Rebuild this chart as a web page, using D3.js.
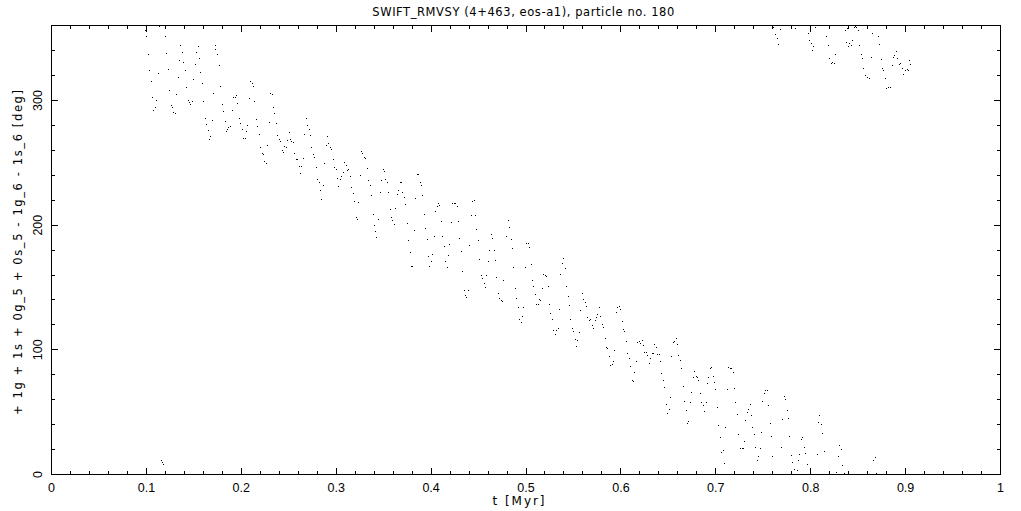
<!DOCTYPE html>
<html><head><meta charset="utf-8">
<script src="https://cdn.jsdelivr.net/npm/d3@7"></script>
<style>
body{margin:0;background:#fff}
svg{display:block}
text{font-family:"Liberation Sans",Arial,sans-serif;fill:#000}
text.lab{font-family:"DejaVu Sans",sans-serif}
</style>
</head><body>
<svg id="chart" width="1021" height="511"></svg>
<script>
// ---- text ----
const titleText = "SWIFT_RMVSY (4+463, eos-a1), particle no. 180";
const xLabelText = "t [Myr]";
const yLabelText = "+ 1g + 1s + 0g_5 + 0s_5 - 1g_6 - 1s_6 [deg]";

// ---- ticks ----
const xMajorTicks = [0,0.1,0.2,0.3,0.4,0.5,0.6,0.7,0.8,0.9,1];
const xTickLabels = ["0","0.1","0.2","0.3","0.4","0.5","0.6","0.7","0.8","0.9","1"];
const xMinorTicks = d3.range(0,51).map(i=>i/50);
const yMajorTicks = [0,100,200,300];
const yTickLabels = ["0","100","200","300"];
const yMinorTicks = d3.range(0,19).map(i=>i*20);

// ---- data: [t (Myr), angle (deg)] ----
const band1 = [[0.0992,355.9],[0.0999,351.3],[0.1136,359.4],[0.1200,351.3],[0.1020,336.9],[0.1210,337.7],[0.1358,343.8],[0.1379,338.2],[0.1547,343.3],[0.1530,338.2],[0.1733,343.8],[0.1726,340.6],[0.1748,336.9],[0.1031,323.8],[0.1126,321.6],[0.1235,324.6],[0.1347,331.8],[0.1389,330.2],[0.1558,333.4],[0.1516,328.9],[0.1410,323.8],[0.1769,328.1],[0.1052,315.0],[0.1337,318.2],[0.1495,316.6],[0.1568,322.2],[0.1589,313.4],[0.1421,310.2],[0.1242,307.7],[0.1315,304.8],[0.1779,311.0],[0.2095,315.0],[0.2113,313.4],[0.2130,311.2],[0.1063,302.1],[0.1105,300.0],[0.1442,299.7],[0.1452,298.4],[0.1466,296.8],[0.1484,298.9],[0.1600,299.2],[0.1705,305.6],[0.1800,296.5],[0.1073,292.0],[0.1094,294.1],[0.1263,295.7],[0.1273,294.1],[0.1284,290.4],[0.1305,289.6],[0.1811,291.2],[0.1621,285.3],[0.1695,283.9],[0.1832,282.9],[0.1632,280.5],[0.1870,278.1],[0.1653,275.9],[0.1842,275.1],[0.1856,276.5],[0.1674,270.9],[0.1663,269.0]];
const wrapLow = [[0.1161,11.2],[0.1168,9.6],[0.1175,8.0]];
const band2 = [[0.1916,302.7],[0.1937,302.7],[0.1948,304.0],[0.1958,297.3],[0.1905,292.0],[0.1881,279.4],[0.2085,301.6],[0.2137,298.9],[0.2306,305.3],[0.2327,304.5],[0.2338,294.4],[0.2348,289.3],[0.1979,285.3],[0.1990,281.3],[0.2011,276.4],[0.2053,274.9],[0.2064,279.7],[0.2021,269.2],[0.2042,269.2],[0.2158,284.5],[0.2169,278.9],[0.2190,272.4],[0.2295,282.1],[0.2369,281.3],[0.2380,271.6],[0.2401,268.4],[0.2411,266.8],[0.2201,262.0],[0.2222,257.2],[0.2232,256.4],[0.2243,250.8],[0.2264,249.2],[0.2274,263.6],[0.2432,259.6],[0.2443,258.0],[0.2453,262.8],[0.2474,262.0],[0.2485,267.6],[0.2506,274.0],[0.2517,268.4],[0.2527,266.8],[0.2548,266.0],[0.2559,257.2],[0.2580,252.4],[0.2590,252.4],[0.2612,246.8],[0.2633,246.8],[0.2622,241.2],[0.2654,253.2],[0.2664,272.4],[0.2685,285.3],[0.2696,279.7],[0.2717,276.4],[0.2727,271.6],[0.2738,262.0],[0.2759,256.4],[0.2770,254.0],[0.2791,246.0],[0.2801,236.3],[0.2822,233.9],[0.2833,227.5],[0.2843,220.3],[0.2864,231.5],[0.2875,249.2],[0.2896,263.6],[0.2907,270.8],[0.2917,265.2],[0.2938,262.0],[0.2949,260.4],[0.2970,252.4],[0.2980,246.0],[0.3001,244.4],[0.3012,237.1],[0.3022,230.7],[0.3043,236.3],[0.3054,238.8],[0.3075,242.0],[0.3086,250.0],[0.3107,247.6],[0.3117,243.6],[0.3128,244.4],[0.3149,238.8],[0.3159,229.9],[0.3181,225.1],[0.3191,218.7],[0.3233,217.9],[0.3254,239.5],[0.3265,258.8],[0.3275,257.2],[0.3296,254.0],[0.3307,253.2],[0.3328,245.2],[0.3339,235.5],[0.3360,231.5],[0.3370,223.5],[0.3212,205.9],[0.3223,204.3],[0.3391,208.3],[0.3444,204.3],[0.3402,199.4],[0.3412,194.6],[0.3423,190.1]];
const band3 = [[0.3497,244.4],[0.3507,242.8],[0.3476,235.6],[0.3518,236.4],[0.3539,233.9],[0.3465,225.9],[0.3549,225.9],[0.3676,233.9],[0.3686,233.9],[0.3855,240.4],[0.3866,240.4],[0.3887,233.9],[0.3897,231.5],[0.3655,227.5],[0.3644,224.3],[0.3697,225.9],[0.3718,221.9],[0.3729,216.3],[0.3834,221.1],[0.3908,223.5],[0.3570,212.3],[0.3623,213.1],[0.3581,205.9],[0.3592,203.5],[0.3613,200.3],[0.3750,201.1],[0.3823,195.5],[0.3929,208.3],[0.3939,197.1],[0.3760,187.4],[0.3781,177.8],[0.3792,166.6],[0.3802,166.6],[0.3960,188.2],[0.3971,174.6],[0.3981,166.6],[0.4003,170.6],[0.4013,176.2],[0.4034,190.6],[0.4045,210.7],[0.4066,214.7],[0.4076,217.1],[0.4087,215.5],[0.4108,202.7],[0.4118,190.6],[0.4140,182.6],[0.4150,170.6],[0.4171,165.8],[0.4182,175.4],[0.4192,184.2],[0.4213,201.9],[0.4224,217.1],[0.4245,217.1],[0.4255,217.1],[0.4276,214.7],[0.4287,202.7],[0.4298,189.0],[0.4319,178.6],[0.4329,162.6],[0.4350,147.3],[0.4392,147.3],[0.4361,143.3],[0.4371,141.7],[0.4403,183.4],[0.4424,207.5],[0.4435,218.7],[0.4456,219.5],[0.4466,207.5],[0.4477,196.3],[0.4498,187.4],[0.4508,172.2],[0.4529,159.4],[0.4540,157.0],[0.4561,152.9],[0.4572,149.7],[0.4582,159.4],[0.4603,170.6],[0.4614,179.4],[0.4635,192.2],[0.4645,189.0],[0.4666,179.4],[0.4677,171.4],[0.4687,157.8],[0.4708,144.9],[0.4719,140.9],[0.4740,139.3],[0.4751,138.5],[0.4761,155.3],[0.4793,190.6],[0.4814,203.5],[0.4825,197.9],[0.4846,188.2],[0.4856,181.0],[0.4867,165.8],[0.4888,148.9],[0.4898,140.9],[0.4919,133.7],[0.4972,133.7],[0.4993,165.8],[0.5004,185.0],[0.5025,185.0],[0.5035,181.8]];
const band4 = [[0.4930,124.1],[0.4951,121.6],[0.4961,126.5],[0.5056,168.2],[0.5067,155.3],[0.5077,150.5],[0.5098,144.1],[0.5109,136.1],[0.5130,136.1],[0.5140,140.1],[0.5151,139.3],[0.5172,148.9],[0.5183,160.2],[0.5204,159.4],[0.5214,158.6],[0.5235,150.5],[0.5246,136.1],[0.5256,128.9],[0.5277,124.1],[0.5288,115.2],[0.5309,112.0],[0.5320,115.2],[0.5341,116.8],[0.5351,132.1],[0.5362,160.2],[0.5383,169.0],[0.5393,173.0],[0.5414,165.0],[0.5425,150.5],[0.5446,142.5],[0.5457,135.3],[0.5467,124.1],[0.5488,116.8],[0.5499,114.4],[0.5520,108.0],[0.5541,107.2],[0.5530,102.4],[0.5562,113.6],[0.5573,131.3],[0.5594,144.9],[0.5604,140.1],[0.5625,137.7],[0.5636,134.5],[0.5646,125.7],[0.5667,123.3],[0.5678,124.1],[0.5699,119.2],[0.5709,116.8],[0.5731,123.3],[0.5741,125.7],[0.5752,128.1],[0.5773,133.7],[0.5783,126.5],[0.5804,120.0],[0.5815,117.6],[0.5836,108.8],[0.5847,101.6],[0.5857,100.8],[0.5878,94.4],[0.5889,87.2],[0.5910,88.0],[0.5920,90.4],[0.5931,99.2],[0.5952,129.7],[0.5962,133.7],[0.5983,134.5],[0.5994,132.1],[0.6015,122.5],[0.6026,116.0],[0.6036,114.4],[0.6057,106.4],[0.6068,96.8],[0.6089,92.8],[0.6099,86.4],[0.6142,81.6],[0.6163,90.4],[0.6173,105.6],[0.6194,106.4],[0.6205,104.8],[0.6226,107.2],[0.6236,103.2],[0.6247,97.6],[0.6268,97.6],[0.6279,95.2],[0.6300,88.8],[0.6310,92.8],[0.6331,96.8],[0.6342,96.8],[0.6352,104.0],[0.6373,101.6],[0.6384,96.0],[0.6405,96.0],[0.6416,90.4],[0.6426,80.7]];
const band5 = [[0.6120,75.1],[0.6131,74.3],[0.6447,75.1],[0.6458,69.5],[0.6479,55.9],[0.6489,48.7],[0.6510,51.9],[0.6521,61.5],[0.6531,94.4],[0.6553,105.6],[0.6563,106.4],[0.6584,108.8],[0.6595,104.0],[0.6605,95.2],[0.6626,91.2],[0.6637,84.8],[0.6658,70.3],[0.6668,58.3],[0.6689,51.1],[0.6700,40.6],[0.6711,42.2],[0.6732,57.5],[0.6742,65.5],[0.6763,77.5],[0.6774,82.4],[0.6795,78.3],[0.6805,77.5],[0.6816,75.1],[0.6837,64.7],[0.6848,57.5],[0.6869,55.1],[0.6879,50.3],[0.6900,57.5],[0.6911,72.7],[0.6921,77.5],[0.6942,84.8],[0.6953,85.6],[0.6974,78.3],[0.6985,73.5],[0.6995,67.9],[0.7016,53.5],[0.7027,39.0],[0.7048,29.4],[0.7058,17.4],[0.7079,19.0],[0.7090,8.6],[0.7100,37.4],[0.7122,67.9],[0.7132,85.6],[0.7153,84.8],[0.7164,84.8],[0.7185,81.6],[0.7195,68.7],[0.7206,57.5],[0.7227,47.9],[0.7238,31.8],[0.7259,20.6],[0.7280,20.6],[0.7290,20.6],[0.7301,26.2],[0.7311,43.0],[0.7332,49.5],[0.7343,51.9],[0.7364,55.9],[0.7374,47.1],[0.7385,37.4],[0.7406,31.8],[0.7417,21.4],[0.7438,11.0],[0.7448,14.2],[0.7469,20.6],[0.7480,33.4],[0.7490,58.3],[0.7511,64.7],[0.7522,67.1],[0.7543,67.1],[0.7554,55.1],[0.7575,40.6],[0.7585,30.2],[0.7596,14.2],[0.7691,21.4],[0.7701,43.9],[0.7722,62.3],[0.7733,59.9],[0.7754,51.1],[0.7764,44.7],[0.7775,30.2],[0.7796,15.0],[0.7806,9.4],[0.7827,3.7],[0.7859,2.9],[0.7870,11.0],[0.7880,15.8],[0.7901,27.8],[0.7912,29.4],[0.7933,21.4],[0.7943,16.6],[0.7964,7.8]];
const band6 = [[0.8070,15.8],[0.8080,41.4],[0.8091,47.1],[0.8112,39.8],[0.8123,32.6],[0.8144,18.2],[0.8270,1.3],[0.8291,14.2],[0.8302,23.0],[0.8323,19.8],[0.8333,7.0],[0.8359,0.8],[0.8660,11.0],[0.8681,13.4],[0.8696,0.8]];
const wrapHigh = [[0.7610,358.5],[0.7627,352.7],[0.7648,349.5],[0.7659,344.6],[0.7680,356.9],[0.7838,357.7],[0.7975,353.5],[0.7986,347.9],[0.8007,345.4],[0.8028,343.0],[0.8017,339.8],[0.8049,358.5],[0.8165,351.3],[0.8186,343.8],[0.8196,333.4],[0.8217,329.4],[0.8228,330.2],[0.8249,329.4],[0.8260,336.6],[0.8365,355.9],[0.8386,357.5],[0.8376,346.2],[0.8397,343.0],[0.8407,345.4],[0.8428,343.8],[0.8439,347.9],[0.8460,358.3],[0.8470,359.1],[0.8481,358.3],[0.8502,355.9],[0.8512,343.8],[0.8534,336.6],[0.8544,333.4],[0.8555,325.4],[0.8576,319.8],[0.8597,318.7],[0.8618,317.4],[0.8639,334.2],[0.8649,353.5],[0.8713,351.1],[0.8723,344.6],[0.8744,332.6],[0.8755,325.4],[0.8765,323.8],[0.8786,317.4],[0.8797,309.3],[0.8818,310.2],[0.8839,310.2],[0.8860,327.8],[0.8871,334.2],[0.8881,335.8],[0.8902,339.0],[0.8913,333.4],[0.8934,328.6],[0.8945,329.4],[0.8966,325.4],[0.8976,320.6],[0.8997,323.8],[0.9018,324.6],[0.9029,323.8],[0.9039,331.8],[0.9050,328.6]];

const allPoints = [].concat(band1, wrapLow, band2, band3, band4, band5, band6, wrapHigh);

// ---- drawing ----
const svg = d3.select("#chart");
const x = d3.scaleLinear().domain([0,1]).range([51,1000]);
const y = d3.scaleLinear().domain([0,360]).range([474,25.2]);
const g = svg.append("g").attr("shape-rendering","crispEdges");

function styleAxis(sel){
  sel.selectAll("path").attr("stroke","#000").attr("stroke-width",1);
  sel.selectAll("line").attr("stroke","#000").attr("stroke-width",1);
  sel.selectAll("text").remove();
}
// major + minor ticks, all four sides, pointing inward
const MAJ = 6.5, MIN = 3.5;
const axisSpecs = [
  [d3.axisBottom(x), xMinorTicks, MIN, "translate(0,474)"],
  [d3.axisBottom(x), xMajorTicks, MAJ, "translate(0,474)"],
  [d3.axisTop(x),    xMinorTicks, MIN, "translate(0,25)"],
  [d3.axisTop(x),    xMajorTicks, MAJ, "translate(0,25)"],
  [d3.axisLeft(y),   yMinorTicks, MIN, "translate(51,0)"],
  [d3.axisLeft(y),   yMajorTicks, MAJ, "translate(51,0)"],
  [d3.axisRight(y),  yMinorTicks, MIN, "translate(1000,0)"],
  [d3.axisRight(y),  yMajorTicks, MAJ, "translate(1000,0)"]
];
axisSpecs.forEach(([ax, vals, len, tr]) => {
  g.append("g").attr("transform", tr)
    .call(ax.tickValues(vals).tickSizeInner(-len).tickSizeOuter(0).tickFormat(""))
    .call(styleAxis);
});

// tick labels
svg.append("g").selectAll("text").data(xMajorTicks).join("text")
  .attr("x", d => x(d)+0.5).attr("y", 492)
  .attr("text-anchor","middle").attr("font-size","12.5px")
  .text((d,i) => xTickLabels[i]);
svg.append("g").selectAll("text").data(yMajorTicks).join("text")
  .attr("transform", d => `translate(42,${y(d)+0.5}) rotate(-90)`)
  .attr("text-anchor","middle").attr("font-size","12.5px")
  .text((d,i) => yTickLabels[i]);

// titles
svg.append("text").attr("class","lab").attr("x",523.3).attr("y",15.5).attr("text-anchor","middle")
  .attr("font-size","11.5px").attr("textLength",302).attr("lengthAdjust","spacing").text(titleText);
svg.append("text").attr("class","lab").attr("x",518.5).attr("y",504.5).attr("text-anchor","middle")
  .attr("font-size","12px").attr("textLength",52).attr("lengthAdjust","spacing").text(xLabelText);
svg.append("text").attr("class","lab").attr("transform","translate(21.5,252.5) rotate(-90)").attr("text-anchor","middle")
  .attr("font-size","11.5px").attr("textLength",325).attr("lengthAdjust","spacing").text(yLabelText);

// points: single pixels
svg.append("g").attr("shape-rendering","crispEdges").selectAll("rect").data(allPoints).join("rect")
  .attr("x", d => Math.floor(x(d[0])+0.5))
  .attr("y", d => Math.floor(y(d[1])+0.5))
  .attr("width",1).attr("height",1).attr("fill","#000");
</script>
</body></html>
